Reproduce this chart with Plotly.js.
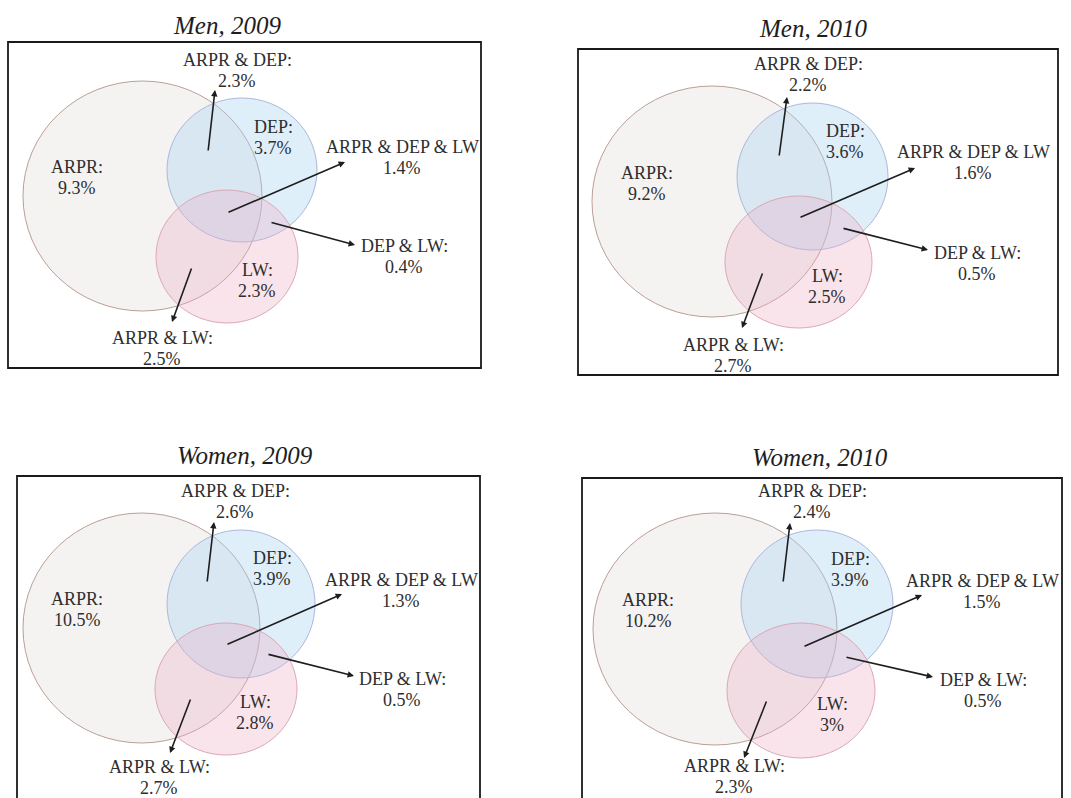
<!DOCTYPE html>
<html>
<head>
<meta charset="utf-8">
<script src="https://cdn.plot.ly/plotly-3.0.1.min.js"></script>
<style>
  html, body { margin: 0; padding: 0; background: #ffffff; }
  #chart { width: 1071px; height: 798px; }
</style>
</head>
<body>
<div id="chart"></div>
<script>
// ---------- data ----------
const panelTitles = ['Men, 2009', 'Men, 2010', 'Women, 2009', 'Women, 2010'];
const regionNames = ['ARPR', 'DEP', 'LW', 'ARPR & DEP', 'ARPR & DEP & LW', 'DEP & LW', 'ARPR & LW'];
const men2009   = [9.3, 3.7, 2.3, 2.3, 1.4, 0.4, 2.5];
const men2010   = [9.2, 3.6, 2.5, 2.2, 1.6, 0.5, 2.7];
const women2009 = [10.5, 3.9, 2.8, 2.6, 1.3, 0.5, 2.7];
const women2010 = [10.2, 3.9, 3, 2.4, 1.5, 0.5, 2.3];
const panelValues = [men2009, men2010, women2009, women2010];

// ---------- layout geometry (local panel coordinates, px) ----------
const geom = [
  { box: [8, 42, 481, 368], title: [227, 25],
    circles: [[23, 81, 262, 311], [167, 98, 317, 242], [156, 190, 298, 323]],
    labels: [[77, 177], [273, 137], [257, 280], [237, 70], [402, 157], [404, 256], [162, 348]],
    arrows: [null, null, null, [208, 152, 215, 90], [227, 213, 345, 162], [270, 222, 355, 245], [192, 267, 172, 322]] },
  { box: [38, 49, 518, 375], title: [273, 28],
    circles: [[52, 86, 292, 317], [197, 103, 348, 250], [185, 196, 332, 328]],
    labels: [[107, 183], [305, 141], [287, 286], [268, 74], [433, 162], [437, 263], [193, 355]],
    arrows: [null, null, null, [239, 157, 247, 97], [259, 218, 375, 168], [302, 228, 388, 250], [223, 272, 202, 328]] },
  { box: [17, 76, 480, 440], title: [245, 55],
    circles: [[23, 113, 260, 343], [167, 130, 315, 278], [155, 223, 297, 355]],
    labels: [[77, 209], [272, 168], [255, 312], [235, 101], [401, 190], [402, 289], [159, 377]],
    arrows: [null, null, null, [207, 183, 214, 122], [226, 245, 342, 194], [267, 254, 354, 276], [191, 298, 170, 353]] },
  { box: [42, 78, 522, 440], title: [280, 57],
    circles: [[53, 113, 297, 345], [201, 130, 353, 278], [187, 223, 335, 358]],
    labels: [[108, 210], [310, 169], [292, 314], [272, 101], [442, 191], [443, 290], [194, 376]],
    arrows: [null, null, null, [243, 183, 250, 123], [263, 247, 382, 195], [305, 257, 393, 277], [227, 300, 204, 358]] }
];

const W = 1071, H = 798;
const panelRect = [ // pixel extents of each subplot on the page
  [0, 0, 540, 400], [540, 0, 1071, 400], [0, 400, 540, 798], [540, 400, 1071, 798]
];

const circleStyle = [
  { fill: 'rgba(208,204,200,0.24)', line: '#bb9f96' },
  { fill: 'rgba(165,212,240,0.36)', line: '#aab8dc' },
  { fill: 'rgba(238,170,195,0.32)', line: '#dba8b4' }
];

const serif = '"Liberation Serif", "Times New Roman", serif';
const layout = {
  width: W, height: H,
  margin: { l: 0, r: 0, t: 0, b: 0 },
  paper_bgcolor: '#ffffff', plot_bgcolor: 'rgba(0,0,0,0)',
  showlegend: false,
  shapes: [], annotations: []
};
const traces = [];

panelRect.forEach((r, i) => {
  const n = i + 1;
  const xa = 'xaxis' + (n === 1 ? '' : n), ya = 'yaxis' + (n === 1 ? '' : n);
  const xr = 'x' + (n === 1 ? '' : n), yr = 'y' + (n === 1 ? '' : n);
  const wLoc = r[2] - r[0], hLoc = r[3] - r[1];
  layout[xa] = { domain: [r[0] / W, r[2] / W], range: [0, wLoc], autorange: false, visible: false, fixedrange: true, anchor: yr };
  layout[ya] = { domain: [1 - r[3] / H, 1 - r[1] / H], range: [hLoc, 0], autorange: false, visible: false, fixedrange: true, anchor: xr };
  traces.push({ type: 'scatter', x: [0], y: [0], xaxis: xr, yaxis: yr, mode: 'markers', marker: { opacity: 0 }, hoverinfo: 'skip' });

  const g = geom[i];
  const vals = panelValues[i];
  // frame
  layout.shapes.push({ type: 'rect', xref: xr, yref: yr, x0: g.box[0], y0: g.box[1], x1: g.box[2], y1: g.box[3],
    line: { color: '#1a1a1a', width: 1.8 }, fillcolor: 'rgba(0,0,0,0)' });
  // circles
  g.circles.forEach((c, k) => {
    layout.shapes.push({ type: 'circle', xref: xr, yref: yr, x0: c[0], y0: c[1], x1: c[2], y1: c[3],
      fillcolor: circleStyle[k].fill, line: { color: circleStyle[k].line, width: 1 } });
  });
  // title
  layout.annotations.push({ xref: xr, yref: yr, x: g.title[0], y: g.title[1], showarrow: false,
    text: panelTitles[i], font: { family: serif, size: 25, color: '#1e1e1e', style: 'italic' },
    xanchor: 'center', yanchor: 'middle' });
  // region labels (two lines each)
  regionNames.forEach((name, k) => {
    const head = k === 4 ? name : name + ':';
    const lines = [head, vals[k] + '%'];
    lines.forEach((t, j) => {
      layout.annotations.push({ xref: xr, yref: yr, x: g.labels[k][0], y: g.labels[k][1] + (j === 0 ? -10.5 : 10.5),
        showarrow: false, text: t, font: { family: serif, size: 18, color: '#2e2e2e' },
        xanchor: 'center', yanchor: 'middle' });
    });
    const a = g.arrows[k];
    if (a) {
      layout.annotations.push({ xref: xr, yref: yr, axref: xr, ayref: yr,
        x: a[2], y: a[3], ax: a[0], ay: a[1], text: '', showarrow: true,
        arrowhead: 2, arrowsize: 0.8, arrowwidth: 1.6, arrowcolor: '#1e1e1e', standoff: 0, startstandoff: 0 });
    }
  });
});

Plotly.newPlot('chart', traces, layout, { displayModeBar: false, staticPlot: true });
</script>
</body>
</html>
